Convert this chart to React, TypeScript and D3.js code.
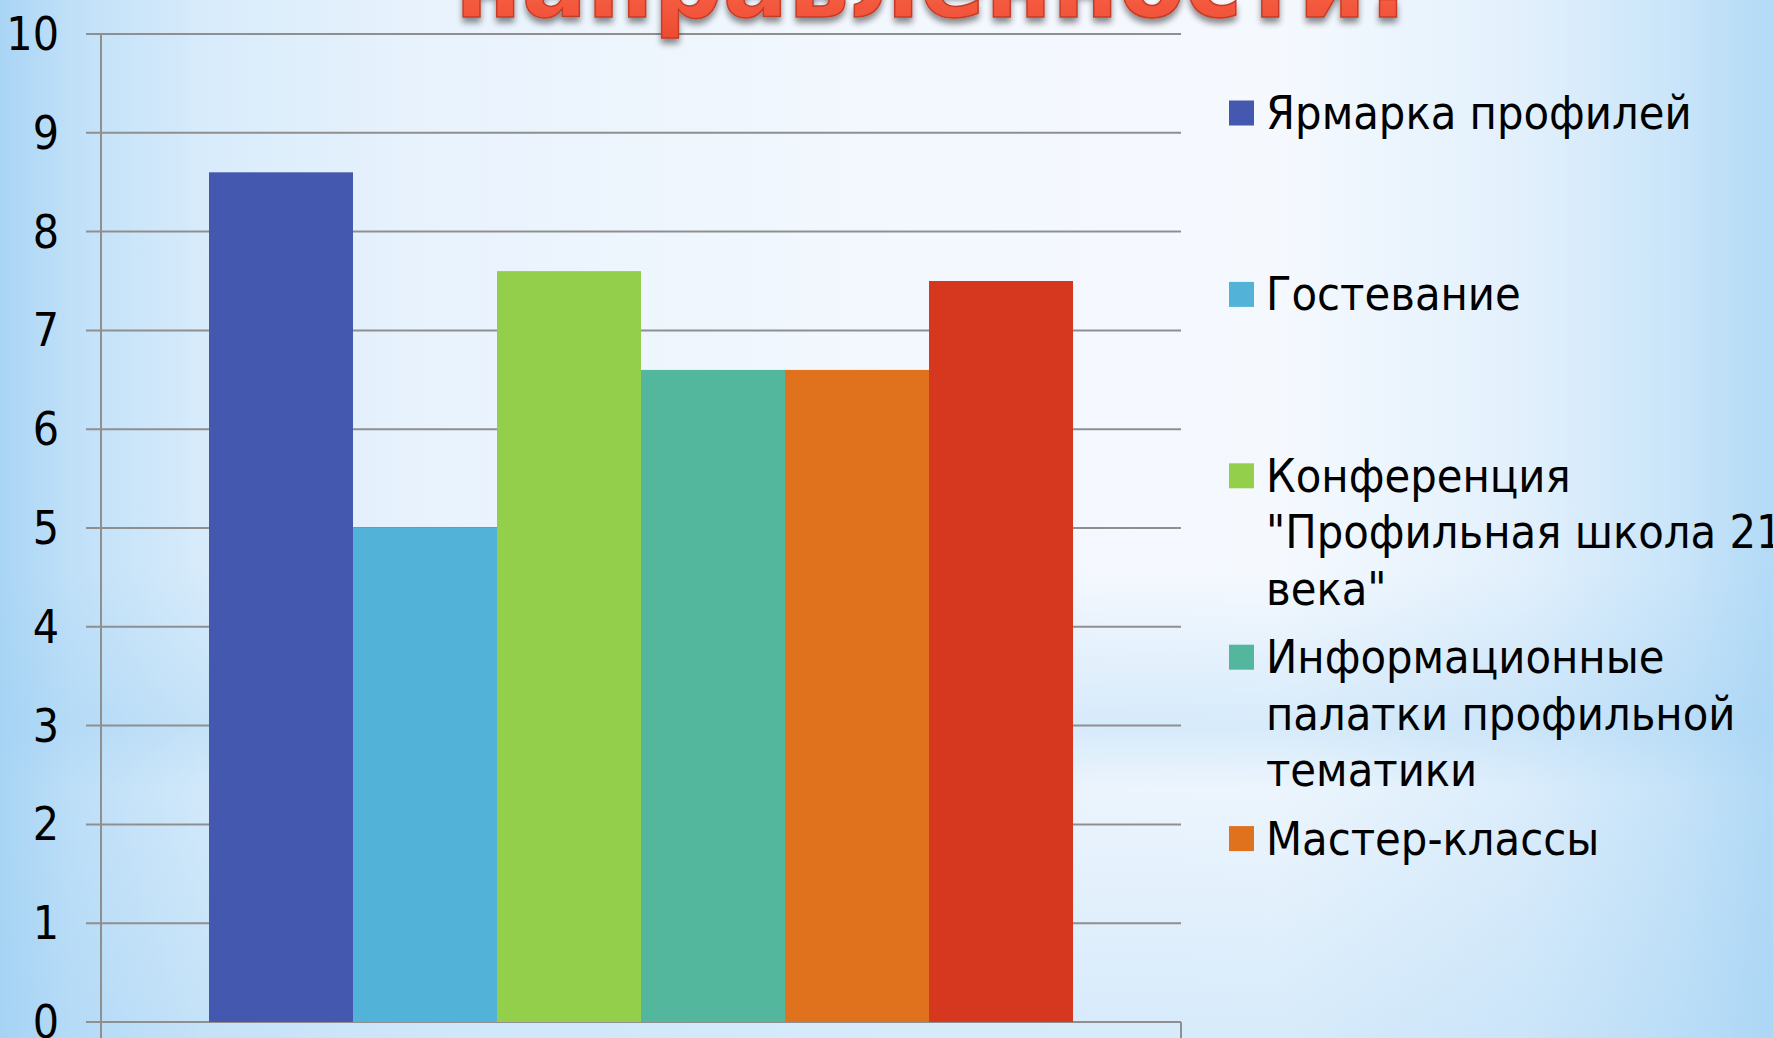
import React from "react";
import * as d3 from "d3";

const W = 1773;
const H = 1038;

const seriesKeys = ["s1", "s2", "s3", "s4", "s5", "s6"];
const seriesValues = [8.6, 5.0, 7.6, 6.6, 6.6, 7.5];
const seriesColors = ["#4358AE", "#52B2D8", "#93CF4A", "#52B79D", "#E0711D", "#D5371F"];
const legendLabels = [
  ["Ярмарка профилей"],
  ["Гостевание"],
  ["Конференция", "\"Профильная школа 21", "века\""],
  ["Информационные", "палатки профильной", "тематики"],
  ["Мастер-классы"],
];
const yTickValues = [0, 1, 2, 3, 4, 5, 6, 7, 8, 9, 10];
const titleText = "направленности!";

const FONT = "'DejaVu Sans Condensed', 'DejaVu Sans', sans-serif";

export default function App() {
  const y = d3.scaleLinear().domain([0, 10]).range([1022, 34]);
  const x = d3.scaleBand().domain(seriesKeys).range([101, 1181]).paddingInner(0).paddingOuter(0.75);
  const legendY = d3.scalePoint().domain(d3.range(seriesKeys.length).map(String)).range([113, 1020]);
  const lineGap = 56.5;
  const legendFont = 46.5;
  const gridColor = "#8f8f8f";

  return (
    <div style={{ position: "absolute", left: 0, top: 0, width: W, height: H, overflow: "hidden" }}>
      <svg width={W} height={H} style={{ display: "block" }}>
        <defs>
          <linearGradient id="bgH" x1="0" y1="0" x2="1" y2="0">
            <stop offset="0" stopColor="#a9d5f5" />
            <stop offset="0.04" stopColor="#c0e0f8" />
            <stop offset="0.12" stopColor="#d9ecfb" />
            <stop offset="0.25" stopColor="#e9f3fd" />
            <stop offset="0.5" stopColor="#f3f8fe" />
            <stop offset="0.72" stopColor="#f5f9fe" />
            <stop offset="0.86" stopColor="#e2f0fc" />
            <stop offset="0.95" stopColor="#c8e4f9" />
            <stop offset="1" stopColor="#b2daf6" />
          </linearGradient>
          <linearGradient id="bgV" x1="0" y1="0" x2="0" y2="1">
            <stop offset="0" stopColor="#9fd0f3" stopOpacity="0" />
            <stop offset="0.55" stopColor="#9fd0f3" stopOpacity="0" />
            <stop offset="0.7" stopColor="#9fd0f3" stopOpacity="0.35" />
            <stop offset="0.76" stopColor="#9fd0f3" stopOpacity="0.1" />
            <stop offset="0.9" stopColor="#9fd0f3" stopOpacity="0.25" />
            <stop offset="1" stopColor="#9fd0f3" stopOpacity="0.35" />
          </linearGradient>
          <linearGradient id="titleFill" x1="0" y1="0" x2="0" y2="1">
            <stop offset="0" stopColor="#ff7a5c" />
            <stop offset="1" stopColor="#ee4a30" />
          </linearGradient>
          <filter id="titleShadow" x="-5%" y="-20%" width="110%" height="160%">
            <feGaussianBlur in="SourceAlpha" stdDeviation="3" />
            <feOffset dx="0" dy="5" result="b" />
            <feComponentTransfer>
              <feFuncA type="linear" slope="0.45" />
            </feComponentTransfer>
            <feMerge>
              <feMergeNode />
              <feMergeNode in="SourceGraphic" />
            </feMerge>
          </filter>
        </defs>
        <rect x={0} y={0} width={W} height={H} fill="url(#bgH)" />
        <rect x={0} y={0} width={W} height={H} fill="url(#bgV)" />

        {/* gridlines */}
        {yTickValues.map((t) => (
          <line key={"g" + t} x1={86} x2={1181} y1={y(t)} y2={y(t)} stroke={gridColor} strokeWidth={2} />
        ))}
        {/* axis */}
        <line x1={101} x2={101} y1={y(10)} y2={H} stroke={gridColor} strokeWidth={2} />
        <line x1={1181} x2={1181} y1={y(0)} y2={H} stroke={gridColor} strokeWidth={2} />

        {/* bars */}
        {seriesKeys.map((k, i) => (
          <rect
            key={k}
            x={x(k)}
            width={x.bandwidth()}
            y={y(seriesValues[i])}
            height={y(0) - y(seriesValues[i])}
            fill={seriesColors[i]}
          />
        ))}

        {/* y tick labels */}
        {yTickValues.map((t) => (
          <text
            key={"t" + t}
            x={59}
            y={y(t) + 16}
            textAnchor="end"
            fontFamily={FONT}
            fontSize={46}
            fill="#000"
          >
            {t}
          </text>
        ))}

        {/* legend */}
        {legendLabels.map((lines, i) => {
          const cy = legendY(String(i)) as number;
          return (
            <g key={"l" + i}>
              <rect x={1229} y={cy - 12.5} width={25} height={25} fill={seriesColors[i]} />
              {lines.map((ln, j) => (
                <text
                  key={j}
                  x={1266}
                  y={cy + j * lineGap + 16}
                  fontFamily={FONT}
                  fontSize={legendFont}
                  fill="#000"
                >
                  {ln}
                </text>
              ))}
            </g>
          );
        })}

        {/* title (bottom line visible) */}
        <text
          x={455}
          y={17}
          textLength={955}
          lengthAdjust="spacingAndGlyphs"
          fontFamily="'DejaVu Sans', sans-serif"
          fontWeight="bold"
          fontSize={100}
          fill="url(#titleFill)"
          stroke="#c63a26"
          strokeWidth={1.5}
          filter="url(#titleShadow)"
        >
          {titleText}
        </text>
      </svg>
    </div>
  );
}
